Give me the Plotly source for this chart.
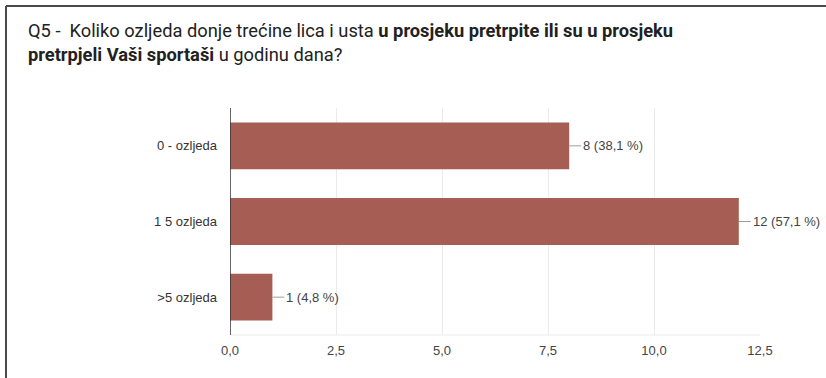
import plotly.graph_objects as go

# Survey answers: number of respondents per category
categories = ["0 - ozljeda", "1 5 ozljeda", ">5 ozljeda"]
counts = [8, 12, 1]
percent_labels = ["38,1 %", "57,1 %", "4,8 %"]
x_ticks = [0, 2.5, 5, 7.5, 10, 12.5]
x_tick_labels = ["0,0", "2,5", "5,0", "7,5", "10,0", "12,5"]

title_html = (
    "Q5 -  Koliko ozljeda donje trećine lica i usta <b>u prosjeku pretrpite ili su u prosjeku</b><br>"
    "<b>pretrpjeli Vaši sportaši</b> u godinu dana?"
)

W, H = 826, 378
ML, MR, MT, MB = 230, 66, 108, 43
plot_w = W - ML - MR
plot_h = H - MT - MB


def px_x(px):
    return (px - ML) / plot_w


def px_y(py):
    return (H - MB - py) / plot_h


fig = go.Figure()
fig.add_trace(go.Bar(
    x=counts,
    y=categories,
    orientation="h",
    marker=dict(color="#a65e54", line=dict(width=0)),
    hoverinfo="skip",
))

# value labels with a short leader line
for cat, n, pct in zip(categories, counts, percent_labels):
    fig.add_annotation(
        x=n, y=cat, xref="x", yref="y",
        text=f"{n} ({pct})",
        showarrow=True, arrowhead=0, arrowwidth=1, arrowcolor="#9e9e9e",
        ax=12, ay=0, standoff=0,
        xanchor="left", yanchor="middle",
        font=dict(family="Arial, Liberation Sans, sans-serif", size=13, color="#444444"),
    )

# question text
fig.add_annotation(
    x=px_x(26), y=px_y(18), xref="paper", yref="paper",
    xanchor="left", yanchor="top", align="left",
    text=title_html, showarrow=False,
    font=dict(family="Roboto, sans-serif", size=18.3, color="#212121"),
)

# card frame (left and top edge)
frame = dict(color="#4a4a4a", width=2)
fig.add_shape(type="line", xref="paper", yref="paper",
              x0=px_x(6), x1=px_x(W + 5), y0=px_y(6), y1=px_y(6), line=frame)
fig.add_shape(type="line", xref="paper", yref="paper",
              x0=px_x(6), x1=px_x(6), y0=px_y(6), y1=px_y(H + 5), line=frame)

fig.update_layout(
    width=W, height=H,
    margin=dict(l=ML, r=MR, t=MT, b=MB),
    paper_bgcolor="white", plot_bgcolor="white",
    showlegend=False,
    bargap=0.38,
    xaxis=dict(
        range=[0, 12.5],
        tickvals=x_ticks, ticktext=x_tick_labels,
        showgrid=True, gridcolor="#ebebeb", gridwidth=1,
        zeroline=False, showline=False,
        ticks="", ticklen=0, ticklabelstandoff=6,
        tickfont=dict(family="Arial, Liberation Sans, sans-serif", size=13, color="#444444"),
        fixedrange=True,
    ),
    yaxis=dict(
        autorange="reversed",
        showgrid=False, zeroline=False,
        showline=False,
        ticks="", ticklen=0, ticklabelstandoff=12,
        tickfont=dict(family="Arial, Liberation Sans, sans-serif", size=13, color="#333333"),
        fixedrange=True,
    ),
)

# dark baseline at x = 0 and light bottom edge
fig.add_shape(type="line", xref="x", yref="paper", x0=0, x1=0, y0=0, y1=1,
              line=dict(color="#333333", width=1.5), layer="above")
fig.add_shape(type="line", xref="paper", yref="paper", x0=0, x1=1, y0=0, y1=0,
              line=dict(color="#ebebeb", width=1), layer="below")

fig.write_html("out.html")
